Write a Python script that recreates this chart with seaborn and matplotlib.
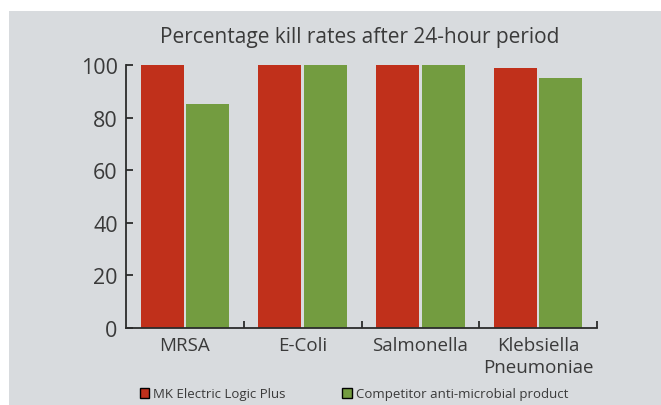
import numpy as np
import pandas as pd
import matplotlib
matplotlib.use('Agg')
import matplotlib.pyplot as plt
import seaborn as sns
from matplotlib.patches import Rectangle, Patch

# Data
categories = ['MRSA', 'E-Coli', 'Salmonella', 'Klebsiella\nPneumoniae']
mk_logic_plus = [100, 100, 100, 99]
competitor = [85, 100, 100, 95]
series_names = ['MK Electric Logic Plus', 'Competitor anti-microbial product']
y_ticks = [0, 20, 40, 60, 80, 100]

RED = '#c0301b'
GREEN = '#739c40'
PANEL = '#d8dbde'
TEXT = '#3a3a3a'

df = pd.DataFrame({
    'Organism': categories * 2,
    'Kill rate': mk_logic_plus + competitor,
    'Product': [series_names[0]] * len(categories) + [series_names[1]] * len(categories),
})

sns.set_theme(style='white')
plt.rcParams['font.family'] = ['Open Sans', 'DejaVu Sans']
plt.rcParams['text.color'] = TEXT

fig = plt.figure(figsize=(6.61, 4.06), dpi=100, facecolor='white')
# grey panel behind the chart
fig.patches.append(Rectangle((9 / 661, 0), 1 - 9 / 661, 1 - 12 / 406,
                             transform=fig.transFigure, facecolor=PANEL,
                             edgecolor='none', zorder=-10))

ax = fig.add_axes([126 / 661, 77 / 406, 471 / 661, 263 / 406])
ax.set_facecolor('none')

sns.barplot(data=df, x='Organism', y='Kill rate', hue='Product',
            palette=[RED, GREEN], width=0.77, gap=0.05, saturation=1,
            linewidth=0, legend=False, ax=ax)

ax.set_xlim(-0.5, len(categories) - 0.5)
ax.set_ylim(0, 100)
ax.set_yticks(y_ticks)
ax.set_xlabel('')
ax.set_ylabel('')

for side in ['top', 'right']:
    ax.spines[side].set_visible(False)
for side in ['left', 'bottom']:
    ax.spines[side].set_color('#2b2b2b')
    ax.spines[side].set_linewidth(1.3)

ax.tick_params(axis='y', direction='in', length=5, width=1.3, color='#2b2b2b',
               labelsize=15.5, labelcolor=TEXT, pad=6, left=True)
ax.tick_params(axis='x', which='major', length=0, labelsize=13.5,
               labelcolor=TEXT, pad=5.5)
ax.set_xticks(np.arange(len(categories)) + 0.5, minor=True)
ax.tick_params(axis='x', which='minor', direction='in', length=5, width=1.3,
               color='#2b2b2b', bottom=True)
for lbl in ax.get_xticklabels():
    lbl.set_linespacing(1.3)

fig.text(360 / 661, 1 - 38 / 406, 'Percentage kill rates after 24-hour period',
         ha='center', va='center', fontsize=15, color=TEXT)

handles = [Patch(facecolor=RED, edgecolor='black', linewidth=1),
           Patch(facecolor=GREEN, edgecolor='black', linewidth=1)]
fig.legend(handles, series_names, loc='center', bbox_to_anchor=(354 / 661, 11 / 406),
           ncol=2, frameon=False, fontsize=9.5, handlelength=0.7, handleheight=0.7,
           handletextpad=0.3, columnspacing=4.3, borderpad=0)

fig.savefig('out.png', dpi=100, facecolor='white')
